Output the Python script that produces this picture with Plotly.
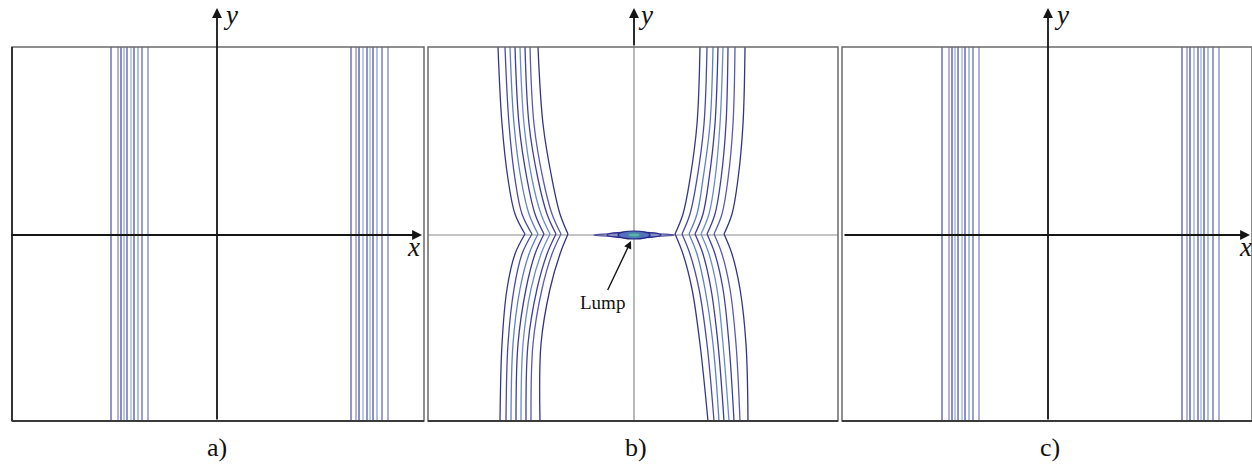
import plotly.graph_objects as go

# ---------------- data ----------------
# panel a) / c): vertical contour lines, x positions (units: px from y-axis)
a_left_x = [-106, -99, -96, -93, -90, -86, -83, -79, -75, -69]
a_right_x = [134, 139, 142, 146, 150, 153, 156, 160, 165, 171]
c_left_x = [-106, -99, -96, -93, -90, -86, -83, -79, -75, -69]
c_right_x = [134, 139, 142, 146, 150, 153, 156, 160, 165, 171]
line_colors = ['#5a5aae', '#8a8ad0', '#4f4fa6', '#8fb0dc', '#5a5ab2',
               '#93b4e0', '#5050aa', '#80a0d6', '#6a6abb', '#8383c6']

# panel b): curved contour lines, sampled at these y levels
b_y = [187, 110, 55, 20, 0, -20, -55, -110, -187]
b_left_lines = [
    [-136, -132, -126, -119, -109, -119, -127, -132, -134],
    [-129, -125, -119, -112, -102, -112, -120, -126, -128],
    [-124, -120, -113, -105, -96, -105, -114, -121, -123],
    [-119, -115, -107, -99, -90, -99, -108, -116, -118],
    [-114, -110, -102, -93, -84, -93, -103, -111, -113],
    [-109, -105, -96, -87, -78, -87, -97, -106, -108],
    [-104, -100, -91, -82, -73, -82, -92, -101, -103],
    [-96, -91, -82, -74, -66, -74, -84, -93, -94],
]
b_right_lines = [
    [66, 63, 56, 49, 41, 49, 58, 66, 74],
    [73, 70, 63, 56, 48, 56, 65, 73, 80],
    [79, 76, 69, 63, 55, 63, 71, 79, 85],
    [84, 81, 75, 69, 61, 69, 77, 84, 90],
    [89, 86, 81, 75, 67, 75, 83, 89, 95],
    [94, 92, 87, 81, 73, 81, 89, 95, 100],
    [101, 99, 94, 88, 80, 88, 96, 102, 106],
    [111, 109, 104, 98, 90, 98, 106, 112, 114],
]
b_colors = ['#36368f', '#4a4aa6', '#5f7fc4', '#3c3c9a', '#6a8ccc', '#40409e', '#5a5ab0', '#33338a']

# the lump at the origin of panel b): nested contours (half-width, half-height)
lump_rx = [40, 27, 16, 6]
lump_ry = [1.5, 2.8, 4.0, 2.0]
lump_line = ['#3a3a9a', '#2f2f8f', '#262680', '#3f8f9a']
lump_fill = ['rgba(0,0,0,0)', 'rgba(110,130,200,0.55)', '#5570c0', '#5fb0a8']

panel_labels = ['a)', 'b)', 'c)']

# ---------------- layout helpers ----------------
W, H = 1252, 469
def PX(x):
    return x / W
def PY(y):
    return 1 - y / H

Y_TOP, Y_BOT = 47, 421
panels = {  # left px, right px, y-axis px
    'a': (12, 424, 217),
    'b': (428, 838, 634),
    'c': (842, 1252, 1048),
}

fig = go.Figure()

def vlines(xs, axis_suffix):
    for i, v in enumerate(xs):
        fig.add_trace(go.Scatter(
            x=[v, v], y=[-187, 187], mode='lines',
            line=dict(color=line_colors[i % len(line_colors)], width=1.3),
            xaxis='x' + axis_suffix, yaxis='y' + axis_suffix,
            showlegend=False, hoverinfo='skip'))

vlines(a_left_x, '')
vlines(a_right_x, '')
vlines(c_left_x, '3')
vlines(c_right_x, '3')

for group in (b_left_lines, b_right_lines):
    for i, xs in enumerate(group):
        col = b_colors[i % len(b_colors)]
        for seg in (slice(0, 5), slice(4, 9)):
            fig.add_trace(go.Scatter(
                x=xs[seg], y=b_y[seg], mode='lines',
                line=dict(color=col, width=1.3, shape='spline', smoothing=1.0),
                xaxis='x2', yaxis='y2', showlegend=False, hoverinfo='skip'))

shapes = []
annotations = []

# lump contours
for rx, ry, lc, fc in zip(lump_rx, lump_ry, lump_line, lump_fill):
    shapes.append(dict(type='circle', xref='x2', yref='y2',
                       x0=-rx, x1=rx, y0=-1 - ry, y1=-1 + ry,
                       line=dict(color=lc, width=1.2), fillcolor=fc, layer='above'))

# axes of the three panels
axis_layout = {}
for k, (name, (l, r, yax)) in enumerate(panels.items()):
    suf = '' if k == 0 else str(k + 1)
    axis_layout['xaxis' + suf] = dict(domain=[PX(l), PX(r)], range=[l - yax, r - yax],
                                      visible=False, anchor='y' + suf, fixedrange=True)
    axis_layout['yaxis' + suf] = dict(domain=[PY(Y_BOT), PY(Y_TOP)], range=[-187, 187],
                                      visible=False, anchor='x' + suf, fixedrange=True)

# frames
for name, (l, r, yax) in panels.items():
    shapes.append(dict(type='rect', xref='paper', yref='paper',
                       x0=PX(l), x1=PX(r), y0=PY(Y_BOT), y1=PY(Y_TOP),
                       line=dict(color='#6a6a6a', width=1.5), layer='above'))
    shapes.append(dict(type='line', xref='paper', yref='paper',
                       x0=PX(l), x1=PX(r), y0=PY(Y_BOT), y1=PY(Y_BOT),
                       line=dict(color='#3a3a3a', width=2), layer='above'))
shapes.append(dict(type='line', xref='paper', yref='paper',
                   x0=PX(12), x1=PX(12), y0=PY(Y_BOT), y1=PY(Y_TOP),
                   line=dict(color='#333333', width=2), layer='above'))

# panel b thin grey axes inside the frame
shapes.append(dict(type='line', xref='paper', yref='paper',
                   x0=PX(428), x1=PX(838), y0=PY(235), y1=PY(235),
                   line=dict(color='#8a8a8a', width=1.2), layer='below'))
shapes.append(dict(type='line', xref='paper', yref='paper',
                   x0=PX(634), x1=PX(634), y0=PY(Y_BOT), y1=PY(Y_TOP),
                   line=dict(color='#8a8a8a', width=1.2), layer='below'))

def arrow(tip_x, tip_y, tail_x, tail_y):
    annotations.append(dict(xref='paper', yref='paper', x=PX(tip_x), y=PY(tip_y),
                            ax=tail_x - tip_x, ay=tail_y - tip_y, axref='pixel', ayref='pixel',
                            text='', showarrow=True, arrowhead=2, arrowsize=1.1,
                            arrowwidth=1.8, arrowcolor='#151515', standoff=0, startstandoff=0))

# a) axes
arrow(422, 235, 10, 235)
arrow(217, 8, 217, 421)
# b) y axis above frame
arrow(634, 8, 634, 47)
# c) axes
arrow(1250, 235, 843, 235)
arrow(1048, 8, 1048, 421)

serif = 'Liberation Serif, Times New Roman, serif'
def label(text, x, y, size):
    annotations.append(dict(xref='paper', yref='paper', x=PX(x), y=PY(y), text=text,
                            showarrow=False, xanchor='center', yanchor='middle',
                            font=dict(family=serif, size=size, color='#111')))

label('<i>x</i>', 413, 247, 27)
label('<i>x</i>', 1245, 247, 27)
label('<i>y</i>', 230, 15, 27)
label('<i>y</i>', 645, 15, 27)
label('<i>y</i>', 1061, 15, 27)

for lab, cx in zip(panel_labels, (217, 636, 1050)):
    label(lab, cx, 447, 26)

# Lump pointer
annotations.append(dict(xref='x2', yref='y2', x=-3, y=-7, text='Lump',
                        ax=-29, ay=61, axref='pixel', ayref='pixel', showarrow=True,
                        arrowhead=2, arrowsize=1.1, arrowwidth=1.4, arrowcolor='#151515',
                        font=dict(family=serif, size=19, color='#111')))

fig.update_layout(
    width=W, height=H, margin=dict(l=0, r=0, t=0, b=0),
    paper_bgcolor='white', plot_bgcolor='white',
    shapes=shapes, annotations=annotations, showlegend=False,
    **axis_layout)

fig.write_html('out.html')
